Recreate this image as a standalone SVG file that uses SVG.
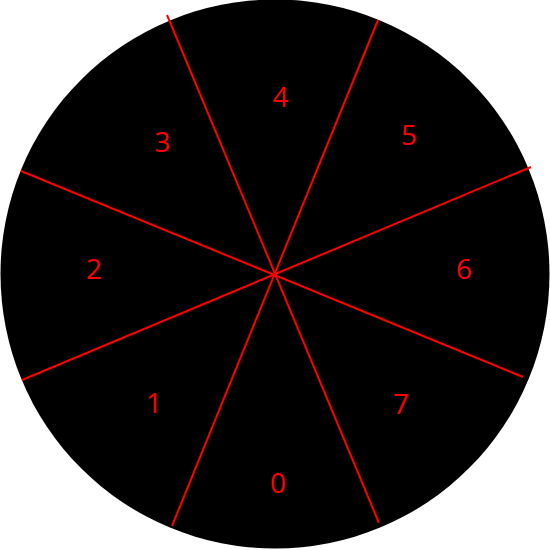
<svg xmlns="http://www.w3.org/2000/svg" width="550" height="550" viewBox="0 0 550 550">
<style>
.lbl{font-family:"Open Sans","Liberation Sans",sans-serif;font-size:28px;fill:#ff0000;text-anchor:middle}
.div{stroke:#ff0000;stroke-width:2;fill:none}
</style>
<rect width="550" height="550" fill="#ffffff"/>
<g id="disc"><circle cx="275" cy="274" r="274.5" fill="#000000"/></g>
<g id="connectors">
<line class="div" x1="167" y1="15" x2="379" y2="523"/>
<line class="div" x1="378" y1="20" x2="172" y2="526"/>
<line class="div" x1="21" y1="171" x2="523" y2="377"/>
<line class="div" x1="22" y1="380" x2="531" y2="167"/>
</g>
<g id="s4"><text class="lbl" x="280.5" y="107">4</text></g>
<g id="s3"><text class="lbl" x="162.5" y="152">3</text></g>
<g id="s5"><text class="lbl" x="409" y="145">5</text></g>
<g id="s2"><text class="lbl" x="94" y="279">2</text></g>
<g id="s6"><text class="lbl" x="464" y="279">6</text></g>
<g id="s1"><text class="lbl" x="154" y="413">1</text></g>
<g id="s7"><text class="lbl" x="401" y="414">7</text></g>
<g id="s0"><text class="lbl" x="278" y="493">0</text></g>
</svg>
